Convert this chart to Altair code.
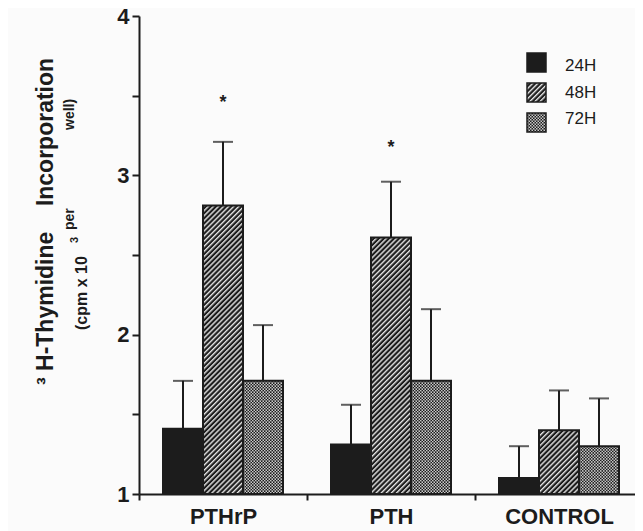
import altair as alt
import pandas as pd
from urllib.parse import quote

# ---------------- data ----------------
categories = ["PTHrP", "PTH", "CONTROL"]
series = ["24H", "48H", "72H"]
mean_24h = [1.41, 1.31, 1.10]
mean_48h = [2.81, 2.61, 1.40]
mean_72h = [1.71, 1.71, 1.30]
err_24h = [0.30, 0.25, 0.20]
err_48h = [0.40, 0.35, 0.25]
err_72h = [0.35, 0.45, 0.30]
star_categories = ["PTHrP", "PTH"]
star_series = ["48H", "48H"]
star_values = [3.49, 3.21]
y_ticks = [1, 1.5, 2, 2.5, 3, 3.5, 4]

rows = []
for s, means, errs in zip(series, [mean_24h, mean_48h, mean_72h], [err_24h, err_48h, err_72h]):
    for c, m, e in zip(categories, means, errs):
        rows.append({"category": c, "series": s, "mean": m, "err": e})
df = pd.DataFrame(rows)
star_df = pd.DataFrame({"category": star_categories, "series": star_series, "y": star_values})
legend_df = pd.DataFrame({"series": series})

# ---------------- styles ----------------
INK = "#1c1c1c"
FONT = "Liberation Sans"

hatch_svg = (
    '<svg xmlns="http://www.w3.org/2000/svg"><defs>'
    '<pattern id="p" width="3.6" height="10" patternUnits="userSpaceOnUse" patternTransform="rotate(45)">'
    '<rect width="3.6" height="10" fill="#1c1c1c"/><rect width="1.4" height="10" fill="#e6e6e6"/>'
    '</pattern></defs><rect width="100%" height="100%" fill="url(#p)"/></svg>'
)
check_svg = (
    '<svg xmlns="http://www.w3.org/2000/svg"><defs>'
    '<pattern id="c" width="3" height="3" patternUnits="userSpaceOnUse">'
    '<rect width="3" height="3" fill="#1c1c1c"/><rect width="1.5" height="1.5" fill="#c8c8c8"/>'
    '<rect x="1.5" y="1.5" width="1.5" height="1.5" fill="#c8c8c8"/>'
    '</pattern></defs><rect width="100%" height="100%" fill="url(#c)"/></svg>'
)
hatch_url = "data:image/svg+xml;charset=utf-8," + quote(hatch_svg)
check_url = "data:image/svg+xml;charset=utf-8," + quote(check_svg)

fill_scale = alt.Scale(domain=series, range=[INK, "transparent", "transparent"])
y_scale = alt.Scale(domain=[1, 4], nice=False, zero=False)

x_axis = alt.Axis(
    tickBand="extent", tickSize=6, tickWidth=2, tickColor=INK,
    domainWidth=2, domainColor=INK, labelAngle=0,
    labelFont=FONT, labelFontWeight="bold", labelFontSize=22, labelColor=INK,
    labelPadding=6, grid=False, title=None,
)
x_enc = alt.X("category:N", sort=categories,
              scale=alt.Scale(domain=categories, range=[0, 504], paddingInner=0, paddingOuter=0),
              axis=x_axis)
xoff = alt.XOffset("series:N", scale=alt.Scale(domain=series, paddingInner=0, paddingOuter=0.6))

y_axis = alt.Axis(
    values=y_ticks, labelExpr="datum.value % 1 == 0 ? format(datum.value, 'd') : ''",
    domainWidth=2, domainColor=INK, tickWidth=2, tickColor=INK, tickSize=7,
    labelFont=FONT, labelFontWeight="bold", labelFontSize=22, labelColor=INK,
    labelPadding=3, grid=False, title=None,
)

base = alt.Chart(df)

img48 = base.transform_filter(alt.datum.series == "48H").mark_image(aspect=False).encode(
    x=x_enc, xOffset=xoff,
    y=alt.Y("mean:Q", scale=y_scale, axis=None), y2=alt.datum(1),
    url=alt.value(hatch_url),
)
img72 = base.transform_filter(alt.datum.series == "72H").mark_image(aspect=False).encode(
    x=x_enc, xOffset=xoff,
    y=alt.Y("mean:Q", scale=y_scale, axis=None), y2=alt.datum(1),
    url=alt.value(check_url),
)
bars = base.mark_bar(stroke=INK, strokeWidth=2).encode(
    x=x_enc, xOffset=xoff,
    y=alt.Y("mean:Q", scale=y_scale, axis=y_axis), y2=alt.datum(1),
    fill=alt.Fill("series:N", scale=fill_scale, legend=None),
)
err_base = base.transform_calculate(upper="datum.mean + datum.err")
err_rule = err_base.mark_rule(color=INK, strokeWidth=2).encode(
    x=x_enc, xOffset=xoff,
    y=alt.Y("mean:Q", scale=y_scale, axis=None), y2="upper:Q",
)
err_cap = err_base.mark_tick(color=INK, orient="horizontal", size=20, thickness=2).encode(
    x=x_enc, xOffset=xoff,
    y=alt.Y("upper:Q", scale=y_scale, axis=None),
)
stars = alt.Chart(star_df).mark_text(
    text="*", font=FONT, fontWeight="bold", fontSize=18, color=INK, baseline="alphabetic", dy=11
).encode(
    x=x_enc, xOffset=xoff,
    y=alt.Y("y:Q", scale=y_scale, axis=None),
)

# ---------------- legend (drawn with a band scale of its own) ----------------
leg_y = alt.Scale(domain=series, range=[37, 116], paddingInner=0.3667, paddingOuter=0)
leg_base = alt.Chart(legend_df)
leg_img48 = leg_base.transform_filter(alt.datum.series == "48H").mark_image(aspect=False).encode(
    x=alt.value(388), x2=alt.value(407),
    y=alt.Y("series:N", scale=leg_y, axis=None), url=alt.value(hatch_url),
)
leg_img72 = leg_base.transform_filter(alt.datum.series == "72H").mark_image(aspect=False).encode(
    x=alt.value(388), x2=alt.value(407),
    y=alt.Y("series:N", scale=leg_y, axis=None), url=alt.value(check_url),
)
leg_box = leg_base.mark_rect(stroke=INK, strokeWidth=1.5).encode(
    x=alt.value(388), x2=alt.value(407),
    y=alt.Y("series:N", scale=leg_y, axis=None),
    fill=alt.Fill("series:N", scale=fill_scale, legend=None),
)
leg_text = leg_base.mark_text(align="left", baseline="middle", font=FONT, fontSize=17, color=INK).encode(
    x=alt.value(426),
    y=alt.Y("series:N", scale=leg_y, axis=None),
    text="series:N",
)

# ---------------- y-axis title pieces ----------------
one = pd.DataFrame({"k": [0]})
def vtext(txt, x, y, size, align="left"):
    return alt.Chart(one).mark_text(
        text=txt, angle=270, align=align, baseline="middle",
        font=FONT, fontWeight="bold", fontSize=size, color=INK,
    ).encode(x=alt.value(x), y=alt.value(y))

title1 = vtext("³ H-Thymidine" + "\u00a0" * 4 + "Incorporation", -93, 369, 23)
title2 = vtext("(cpm x 10", -57, 314, 16)
title3 = vtext("3", -64, 224, 11, align="center")
title4 = vtext("per", -69, 214, 14)
title5 = vtext("well)", -69, 114, 14)

chart = alt.layer(
    img48, img72, bars, err_rule, err_cap, stars,
    leg_img48, leg_img72, leg_box, leg_text,
    title1, title2, title3, title4, title5,
).resolve_scale(y="independent").properties(
    width=496, height=478,
    autosize=alt.AutoSizeParams(type="none"),
    padding={"left": 131, "top": 8, "right": 0, "bottom": 37},
    background="#fbfbfb",
).configure_view(stroke=None)

chart.save("out.html", embed_options={"renderer": "svg", "actions": False})
